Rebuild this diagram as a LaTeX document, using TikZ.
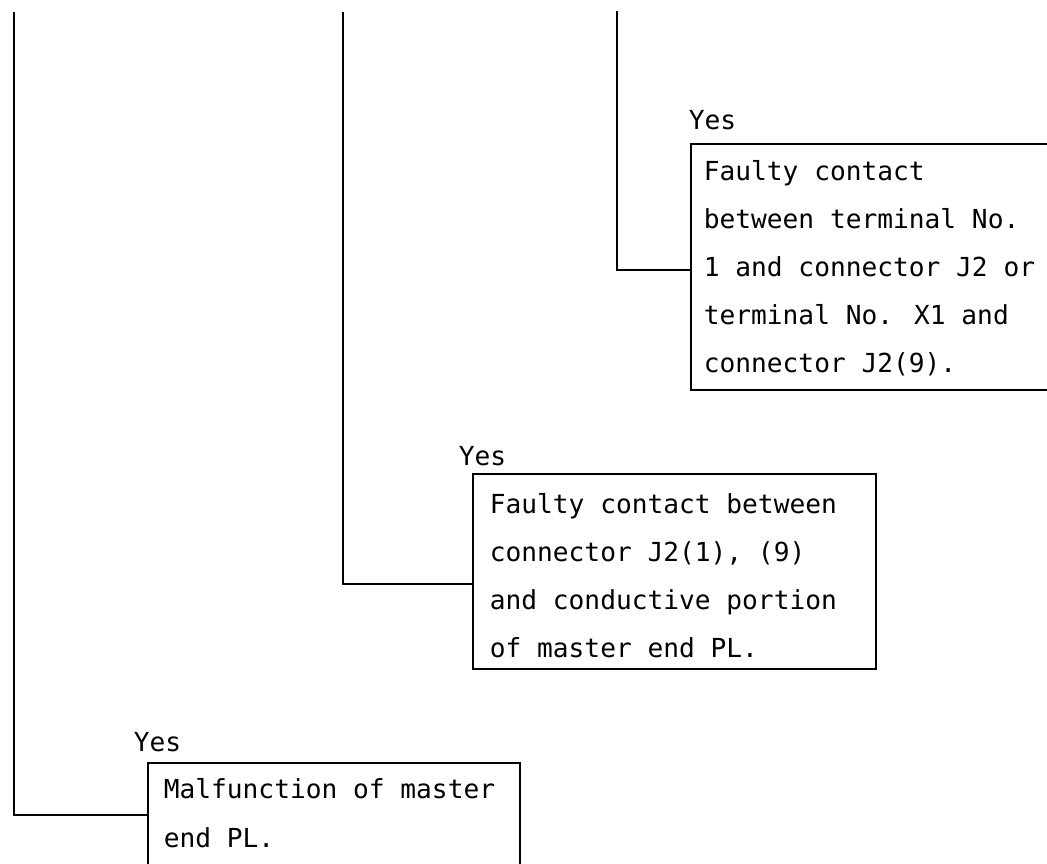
\documentclass[tikz,border=0pt]{standalone}
\usepackage{fontspec}
\newfontfamily\typer{DejaVu Sans Mono}
\begin{document}
\begin{tikzpicture}[x=1pt, y=-1pt, line width=1.7pt,
  box/.style={draw, rectangle, inner sep=0pt, anchor=north west},
  txt/.style={font=\typer\fontsize{26.2}{48}\selectfont, inner sep=0pt, anchor=base west},
  wire/.style={draw}]
\useasboundingbox (0,0) rectangle (1047,864);
\clip (0,0) rectangle (1047,864);

% outcome boxes (the first runs off the right edge, the last off the bottom)
\node[box, minimum width=380pt, minimum height=246pt] (boxA) at (690,143) {};
\node[box, minimum width=403pt, minimum height=195pt] (boxB) at (472,473) {};
\node[box, minimum width=372pt, minimum height=140pt] (boxC) at (147,762) {};

% "Yes" labels above each box
\node[txt] (yesA) at (688,130) {Yes};
\node[txt] (yesB) at (458,465) {Yes};
\node[txt] (yesC) at (133,751) {Yes};

% box texts, one node per typed line
\foreach \l [count=\i] in {Faulty contact, between terminal No., 1 and connector J2 or, terminal No. X1 and, connector J2(9).}
  \node[txt] (textA\i) at (703, {180+48*(\i-1)}) {\l};
\foreach \l [count=\i] in {Faulty contact between, {connector J2(1), (9)}, and conductive portion, of master end PL.}
  \node[txt] (textB\i) at (489, {513+48.3*(\i-1)}) {\l};
\foreach \l [count=\i] in {Malfunction of master, end PL.}
  \node[txt] (textC\i) at (163, {798+49*(\i-1)}) {\l};

% branch lines coming down from above
\coordinate (topA) at (617,11);
\coordinate (jA) at (617,270);
\coordinate (topB) at (343,12);
\coordinate (jB) at (343,584);
\coordinate (topC) at (14,12);
\coordinate (jC) at (14,815);

\draw[wire] (topA) -- (jA) -- (jA -| boxA.west);
\draw[wire] (topB) -- (jB) -- (jB -| boxB.west);
\draw[wire] (topC) -- (jC) -- (jC -| boxC.west);
\end{tikzpicture}
\end{document}
